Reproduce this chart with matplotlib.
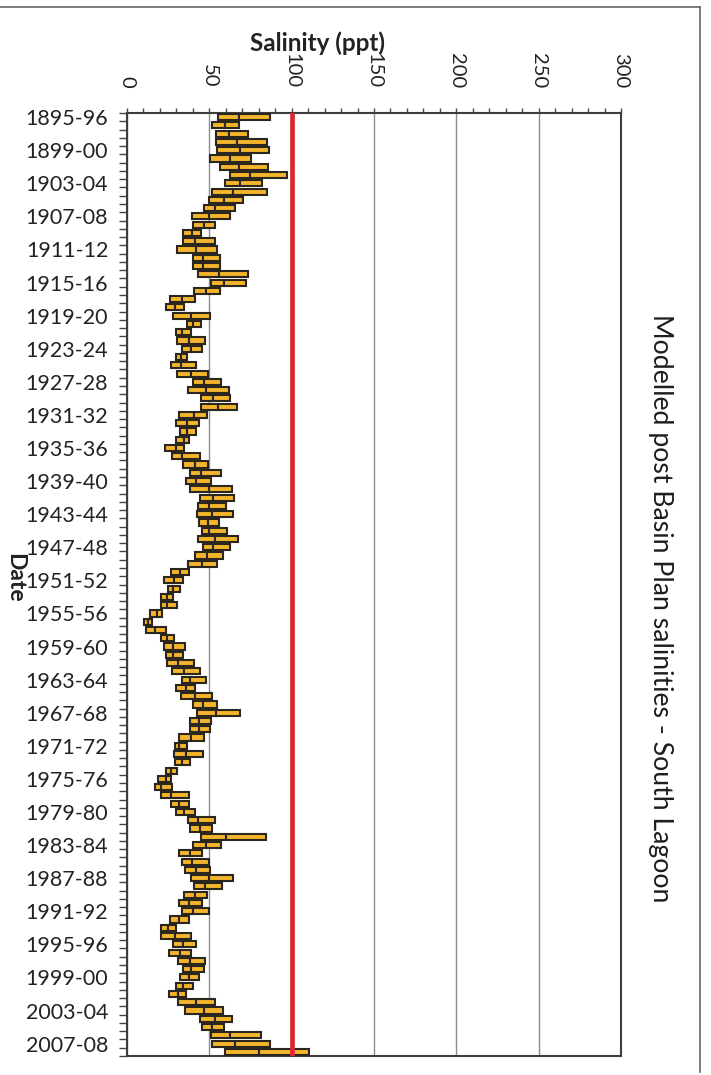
import matplotlib
matplotlib.use("Agg")
import matplotlib.pyplot as plt
from matplotlib.lines import Line2D
from matplotlib.ticker import MultipleLocator, FixedLocator
import numpy as np

plt.rcParams['font.family'] = ['Lato', 'DejaVu Sans']

# one category per water year, 1895-96 .. 2008-09
seasons = ["%d-%02d" % (y, (y + 1) % 100) for y in range(1895, 2009)]

# modelled salinity (ppt): lower end, split point, upper end of each floating bar
sal_min = [55.3, 51.4, 53.9, 54.1, 54.7, 50.3, 56.4, 62.4, 59.8, 51.7,
           49.7, 46.5, 39.4, 40.2, 33.9, 34.3, 30.1, 39.8, 39.8, 43.4,
           51.1, 40.4, 26.1, 23.8, 28.1, 36.2, 29.7, 30.3, 33.3, 29.7,
           26.5, 30.3, 39.8, 37.2, 44.8, 44.8, 31.5, 29.5, 32.3, 29.5,
           23.0, 27.3, 33.9, 38.2, 35.8, 38.2, 44.4, 43.0, 42.4, 44.0,
           45.3, 43.4, 45.9, 41.2, 36.8, 26.5, 22.6, 25.1, 20.8, 20.8,
           14.1, 10.5, 11.5, 20.4, 22.2, 23.4, 24.2, 27.5, 33.3, 29.9,
           32.7, 39.8, 42.8, 38.2, 38.0, 31.3, 28.9, 28.7, 28.9, 23.4,
           19.0, 17.0, 20.8, 26.9, 29.9, 36.8, 38.2, 45.1, 39.8, 31.5,
           33.5, 35.2, 39.0, 40.6, 34.9, 31.3, 33.1, 26.1, 20.4, 20.4,
           28.1, 25.5, 30.9, 33.9, 32.1, 29.9, 25.5, 31.1, 35.4, 44.6,
           45.3, 50.9, 51.7, 59.6]
sal_mid = [68.1, 59.6, 61.8, 67.1, 68.5, 62.4, 68.1, 74.9, 68.9, 64.4,
           58.8, 53.3, 49.7, 46.7, 39.4, 41.0, 41.8, 46.1, 46.3, 56.0,
           58.8, 47.9, 33.3, 28.9, 38.6, 40.2, 33.7, 37.8, 39.0, 32.5,
           32.7, 39.0, 46.7, 47.7, 52.3, 55.4, 40.6, 36.2, 36.6, 34.5,
           29.5, 33.7, 41.0, 45.1, 41.8, 49.7, 52.5, 49.5, 51.5, 49.1,
           50.1, 53.5, 52.3, 48.5, 45.5, 32.3, 28.5, 28.1, 24.0, 24.0,
           18.0, 12.5, 17.2, 24.0, 28.1, 28.1, 30.7, 34.9, 38.4, 35.8,
           41.0, 45.9, 53.9, 43.8, 43.8, 38.6, 31.3, 35.8, 33.3, 26.5,
           23.6, 20.8, 26.7, 31.5, 34.9, 43.4, 44.2, 60.2, 47.7, 38.0,
           39.6, 42.2, 49.7, 47.3, 41.2, 37.8, 39.8, 31.7, 24.6, 28.9,
           34.3, 32.1, 38.2, 39.0, 37.6, 33.9, 30.7, 41.6, 46.5, 53.3,
           51.9, 62.8, 65.5, 80.2]
sal_max = [87.1, 67.9, 73.6, 85.0, 86.2, 75.6, 85.9, 97.2, 81.8, 85.1,
           70.5, 65.7, 62.4, 53.5, 45.1, 53.5, 54.7, 56.6, 56.6, 73.7,
           72.1, 56.4, 41.0, 34.9, 50.3, 45.1, 39.0, 47.5, 45.7, 36.2,
           41.8, 49.3, 56.8, 62.2, 62.4, 66.5, 48.7, 43.6, 42.0, 37.8,
           34.9, 44.6, 49.1, 57.2, 50.9, 64.0, 64.8, 60.4, 64.4, 56.0,
           61.0, 67.5, 62.4, 58.6, 54.7, 37.4, 33.9, 32.3, 27.7, 30.1,
           21.4, 15.2, 23.4, 28.5, 35.4, 34.3, 40.8, 44.4, 47.9, 41.0,
           51.5, 54.7, 68.9, 51.1, 50.3, 46.7, 36.6, 46.3, 38.2, 30.5,
           26.9, 27.1, 37.4, 37.6, 41.2, 53.5, 51.5, 84.4, 57.0, 45.5,
           49.5, 50.5, 64.6, 57.4, 48.3, 45.3, 49.9, 37.6, 29.7, 39.0,
           42.0, 38.6, 47.1, 46.7, 43.6, 40.0, 35.8, 53.5, 58.4, 63.8,
           59.2, 81.2, 86.9, 110.3]

threshold = 100  # red reference line
x_ticks = [0, 50, 100, 150, 200, 250, 300]

W, H = 711, 1075
fig = plt.figure(figsize=(W / 100, H / 100), dpi=100)
fig.patch.set_facecolor('white')

# plot area in pixels: left 127, right 621, top 113, bottom 1056
ax = fig.add_axes([127 / W, 1 - 1056 / H, (621 - 127) / W, (1056 - 113) / H])

pos = np.arange(len(seasons))
lo, mid, hi = np.array(sal_min), np.array(sal_mid), np.array(sal_max)
bar_kw = dict(height=0.74, color='#F4B52C', edgecolor='#2b261e', linewidth=1.5, zorder=3)
ax.barh(pos, mid - lo, left=lo, **bar_kw)
ax.barh(pos, hi - mid, left=mid, **bar_kw)

ax.axvline(threshold, color='#D82A30', lw=3.4, zorder=4)

ax.set_xlim(0, 300)
ax.set_ylim(len(seasons) - 0.5, -0.5)

# value axis on top
ax.xaxis.tick_top()
ax.set_xticks(x_ticks)
ax.xaxis.set_minor_locator(MultipleLocator(10))
ax.tick_params(axis='x', which='both', top=True, bottom=False, direction='out',
               length=3.6, width=1, color='#444444')
ax.tick_params(axis='x', which='major', pad=14.5, labelsize=14.5,
               labelrotation=-90, labelcolor='#222222')
ax.grid(axis='x', which='major', color='#8c8c8c', lw=1, zorder=0)
ax.set_axisbelow(True)

# category axis: labels every 4th season, ticks between categories
ax.set_yticks(pos[::4])
ax.set_yticklabels(seasons[::4])
ax.yaxis.set_minor_locator(FixedLocator(np.arange(-0.5, len(seasons), 1)))
ax.tick_params(axis='y', which='major', length=0, pad=13.5, labelsize=15.5,
               labelcolor='#222222')
ax.tick_params(axis='y', which='minor', direction='out', length=6, width=1,
               color='#444444')

for s in ax.spines.values():
    s.set_color('#3d3d3d')
    s.set_linewidth(1.5)

fig.text(317 / W, 1 - 43 / H, "Salinity (ppt)", ha='center', va='center',
         fontsize=17.5, fontweight='bold', color='#222222')
fig.text(15 / W, 1 - 578 / H, "Date", ha='center', va='center', rotation=-90,
         fontsize=16.5, fontweight='bold', color='#222222')
fig.text(661 / W, 1 - 608 / H, "Modelled post Basin Plan salinities - South Lagoon",
         ha='center', va='center', rotation=-90, fontsize=19.2, color='#1e1e1e')

# outer chart frame (top and right edges visible in the scan)
fig.add_artist(Line2D([0, 700 / W], [1 - 7 / H, 1 - 7 / H], transform=fig.transFigure,
                      color='#666666', lw=1.2))
fig.add_artist(Line2D([700 / W, 700 / W], [1 - 7 / H, 1 - 1072 / H], transform=fig.transFigure,
                      color='#666666', lw=1.2))

fig.savefig('out.png', dpi=100)
